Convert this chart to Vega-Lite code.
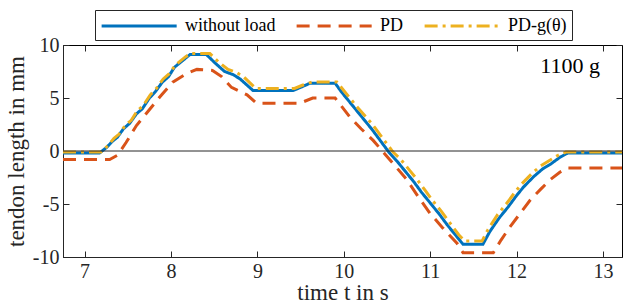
{
  "$schema": "https://vega.github.io/schema/vega-lite/v6.json",
  "width": 559,
  "height": 212,
  "autosize": {"type": "none"},
  "padding": {"left": 63, "top": 45, "right": 1, "bottom": 49},
  "background": "white",
  "config": {
    "view": {"stroke": "black", "strokeWidth": 1},
    "font": "Liberation Serif",
    "axis": {
      "domainColor": "#262626",
      "tickColor": "#262626",
      "labelColor": "#262626",
      "titleColor": "#262626",
      "grid": false,
      "labelFont": "Liberation Serif",
      "titleFont": "Liberation Serif",
      "labelFontSize": 20,
      "titleFontSize": 23,
      "titleFontWeight": "normal",
      "tickSize": -6,
      "labelPadding": 10
    },
    "legend": {
      "labelFont": "Liberation Serif",
      "labelFontSize": 18,
      "labelFontWeight": "normal",
      "labelColor": "black"
    }
  },
  "datasets": {
    "note": [{"label": "1100 g"}],
    "curves": [
      {"t": 6.75, "v": -0.2, "s": "without load"},
      {"t": 7.17, "v": -0.2, "s": "without load"},
      {"t": 7.25, "v": 0.3, "s": "without load"},
      {"t": 7.32, "v": 0.9, "s": "without load"},
      {"t": 7.38, "v": 1.3, "s": "without load"},
      {"t": 7.45, "v": 2.1, "s": "without load"},
      {"t": 7.52, "v": 2.6, "s": "without load"},
      {"t": 7.6, "v": 3.5, "s": "without load"},
      {"t": 7.67, "v": 4.0, "s": "without load"},
      {"t": 7.75, "v": 5.0, "s": "without load"},
      {"t": 7.82, "v": 5.6, "s": "without load"},
      {"t": 7.9, "v": 6.5, "s": "without load"},
      {"t": 7.97, "v": 7.0, "s": "without load"},
      {"t": 8.04, "v": 7.9, "s": "without load"},
      {"t": 8.1, "v": 8.3, "s": "without load"},
      {"t": 8.16, "v": 8.7, "s": "without load"},
      {"t": 8.22, "v": 9.1, "s": "without load"},
      {"t": 8.41, "v": 9.1, "s": "without load"},
      {"t": 8.51, "v": 8.3, "s": "without load"},
      {"t": 8.62, "v": 7.5, "s": "without load"},
      {"t": 8.72, "v": 7.2, "s": "without load"},
      {"t": 8.8, "v": 6.8, "s": "without load"},
      {"t": 8.95, "v": 5.7, "s": "without load"},
      {"t": 9.41, "v": 5.7, "s": "without load"},
      {"t": 9.5, "v": 6.0, "s": "without load"},
      {"t": 9.61, "v": 6.4, "s": "without load"},
      {"t": 9.9, "v": 6.4, "s": "without load"},
      {"t": 9.97, "v": 5.6, "s": "without load"},
      {"t": 10.07, "v": 4.6, "s": "without load"},
      {"t": 10.15, "v": 3.8, "s": "without load"},
      {"t": 10.24, "v": 2.9, "s": "without load"},
      {"t": 10.33, "v": 2.0, "s": "without load"},
      {"t": 10.43, "v": 0.9, "s": "without load"},
      {"t": 10.53, "v": -0.2, "s": "without load"},
      {"t": 10.62, "v": -1.0, "s": "without load"},
      {"t": 10.72, "v": -2.0, "s": "without load"},
      {"t": 10.81, "v": -2.9, "s": "without load"},
      {"t": 10.9, "v": -3.9, "s": "without load"},
      {"t": 11.0, "v": -4.9, "s": "without load"},
      {"t": 11.1, "v": -5.9, "s": "without load"},
      {"t": 11.2, "v": -7.0, "s": "without load"},
      {"t": 11.31, "v": -8.1, "s": "without load"},
      {"t": 11.38, "v": -8.8, "s": "without load"},
      {"t": 11.61, "v": -8.8, "s": "without load"},
      {"t": 11.69, "v": -7.6, "s": "without load"},
      {"t": 11.8, "v": -6.3, "s": "without load"},
      {"t": 11.9, "v": -5.3, "s": "without load"},
      {"t": 12.0, "v": -4.2, "s": "without load"},
      {"t": 12.08, "v": -3.4, "s": "without load"},
      {"t": 12.2, "v": -2.4, "s": "without load"},
      {"t": 12.3, "v": -1.7, "s": "without load"},
      {"t": 12.4, "v": -1.2, "s": "without load"},
      {"t": 12.5, "v": -0.6, "s": "without load"},
      {"t": 12.59, "v": -0.2, "s": "without load"},
      {"t": 13.22, "v": -0.2, "s": "without load"},

      {"t": 6.75, "v": -0.8, "s": "PD"},
      {"t": 7.29, "v": -0.8, "s": "PD"},
      {"t": 7.38, "v": -0.4, "s": "PD"},
      {"t": 7.48, "v": 0.8, "s": "PD"},
      {"t": 7.6, "v": 2.4, "s": "PD"},
      {"t": 7.74, "v": 3.8, "s": "PD"},
      {"t": 7.87, "v": 5.1, "s": "PD"},
      {"t": 8.02, "v": 6.5, "s": "PD"},
      {"t": 8.18, "v": 7.3, "s": "PD"},
      {"t": 8.3, "v": 7.7, "s": "PD"},
      {"t": 8.48, "v": 7.6, "s": "PD"},
      {"t": 8.59, "v": 7.0, "s": "PD"},
      {"t": 8.7, "v": 6.0, "s": "PD"},
      {"t": 8.88, "v": 5.3, "s": "PD"},
      {"t": 8.99, "v": 4.5, "s": "PD"},
      {"t": 9.49, "v": 4.5, "s": "PD"},
      {"t": 9.64, "v": 5.0, "s": "PD"},
      {"t": 9.9, "v": 5.0, "s": "PD"},
      {"t": 10.07, "v": 3.2, "s": "PD"},
      {"t": 10.2, "v": 2.1, "s": "PD"},
      {"t": 10.34, "v": 1.0, "s": "PD"},
      {"t": 10.53, "v": -0.8, "s": "PD"},
      {"t": 10.73, "v": -2.7, "s": "PD"},
      {"t": 10.86, "v": -4.3, "s": "PD"},
      {"t": 11.0, "v": -5.9, "s": "PD"},
      {"t": 11.15, "v": -7.3, "s": "PD"},
      {"t": 11.31, "v": -8.7, "s": "PD"},
      {"t": 11.38, "v": -9.6, "s": "PD"},
      {"t": 11.73, "v": -9.6, "s": "PD"},
      {"t": 11.82, "v": -8.4, "s": "PD"},
      {"t": 11.92, "v": -7.2, "s": "PD"},
      {"t": 12.04, "v": -5.9, "s": "PD"},
      {"t": 12.16, "v": -4.6, "s": "PD"},
      {"t": 12.28, "v": -3.6, "s": "PD"},
      {"t": 12.39, "v": -2.7, "s": "PD"},
      {"t": 12.5, "v": -2.0, "s": "PD"},
      {"t": 12.59, "v": -1.6, "s": "PD"},
      {"t": 13.22, "v": -1.6, "s": "PD"},

      {"t": 6.75, "v": -0.1, "s": "PD-g(θ)"},
      {"t": 7.19, "v": -0.1, "s": "PD-g(θ)"},
      {"t": 7.27, "v": 0.5, "s": "PD-g(θ)"},
      {"t": 7.34, "v": 1.2, "s": "PD-g(θ)"},
      {"t": 7.4, "v": 1.6, "s": "PD-g(θ)"},
      {"t": 7.47, "v": 2.4, "s": "PD-g(θ)"},
      {"t": 7.54, "v": 2.9, "s": "PD-g(θ)"},
      {"t": 7.61, "v": 3.8, "s": "PD-g(θ)"},
      {"t": 7.68, "v": 4.3, "s": "PD-g(θ)"},
      {"t": 7.76, "v": 5.3, "s": "PD-g(θ)"},
      {"t": 7.83, "v": 5.9, "s": "PD-g(θ)"},
      {"t": 7.91, "v": 6.8, "s": "PD-g(θ)"},
      {"t": 7.98, "v": 7.3, "s": "PD-g(θ)"},
      {"t": 8.05, "v": 8.1, "s": "PD-g(θ)"},
      {"t": 8.11, "v": 8.5, "s": "PD-g(θ)"},
      {"t": 8.17, "v": 8.9, "s": "PD-g(θ)"},
      {"t": 8.23, "v": 9.2, "s": "PD-g(θ)"},
      {"t": 8.45, "v": 9.2, "s": "PD-g(θ)"},
      {"t": 8.55, "v": 8.4, "s": "PD-g(θ)"},
      {"t": 8.66, "v": 7.7, "s": "PD-g(θ)"},
      {"t": 8.76, "v": 7.4, "s": "PD-g(θ)"},
      {"t": 8.84, "v": 7.0, "s": "PD-g(θ)"},
      {"t": 8.98, "v": 5.9, "s": "PD-g(θ)"},
      {"t": 9.43, "v": 5.9, "s": "PD-g(θ)"},
      {"t": 9.52, "v": 6.2, "s": "PD-g(θ)"},
      {"t": 9.63, "v": 6.5, "s": "PD-g(θ)"},
      {"t": 9.92, "v": 6.5, "s": "PD-g(θ)"},
      {"t": 9.99, "v": 5.8, "s": "PD-g(θ)"},
      {"t": 10.09, "v": 4.8, "s": "PD-g(θ)"},
      {"t": 10.17, "v": 4.0, "s": "PD-g(θ)"},
      {"t": 10.27, "v": 3.1, "s": "PD-g(θ)"},
      {"t": 10.36, "v": 2.2, "s": "PD-g(θ)"},
      {"t": 10.46, "v": 1.1, "s": "PD-g(θ)"},
      {"t": 10.57, "v": -0.1, "s": "PD-g(θ)"},
      {"t": 10.66, "v": -0.8, "s": "PD-g(θ)"},
      {"t": 10.76, "v": -1.8, "s": "PD-g(θ)"},
      {"t": 10.85, "v": -2.7, "s": "PD-g(θ)"},
      {"t": 10.94, "v": -3.7, "s": "PD-g(θ)"},
      {"t": 11.03, "v": -4.7, "s": "PD-g(θ)"},
      {"t": 11.13, "v": -5.7, "s": "PD-g(θ)"},
      {"t": 11.23, "v": -6.8, "s": "PD-g(θ)"},
      {"t": 11.33, "v": -7.9, "s": "PD-g(θ)"},
      {"t": 11.4, "v": -8.5, "s": "PD-g(θ)"},
      {"t": 11.6, "v": -8.5, "s": "PD-g(θ)"},
      {"t": 11.67, "v": -7.4, "s": "PD-g(θ)"},
      {"t": 11.78, "v": -6.0, "s": "PD-g(θ)"},
      {"t": 11.88, "v": -5.0, "s": "PD-g(θ)"},
      {"t": 11.98, "v": -3.9, "s": "PD-g(θ)"},
      {"t": 12.06, "v": -3.1, "s": "PD-g(θ)"},
      {"t": 12.18, "v": -2.1, "s": "PD-g(θ)"},
      {"t": 12.28, "v": -1.4, "s": "PD-g(θ)"},
      {"t": 12.38, "v": -0.9, "s": "PD-g(θ)"},
      {"t": 12.48, "v": -0.4, "s": "PD-g(θ)"},
      {"t": 12.57, "v": -0.1, "s": "PD-g(θ)"},
      {"t": 13.22, "v": -0.1, "s": "PD-g(θ)"}
    ]
  },
  "resolve": {"axis": {"x": "independent", "y": "independent"}},
  "layer": [
    {
      "data": {"name": "curves"},
      "mark": {"type": "line", "strokeWidth": 3, "clip": true},
      "encoding": {
        "x": {
          "field": "t",
          "type": "quantitative",
          "scale": {"domain": [6.75, 13.22], "nice": false, "zero": false},
          "axis": {"orient": "bottom", "values": [7, 8, 9, 10, 11, 12, 13], "format": "d", "title": "time t in s", "titlePadding": 0}
        },
        "y": {
          "field": "v",
          "type": "quantitative",
          "scale": {"domain": [-10, 10], "nice": false},
          "axis": {"orient": "left", "values": [-10, -5, 0, 5, 10], "title": "tendon length in mm", "labelExpr": "'' + datum.value", "titlePadding": 4}
        },
        "color": {
          "field": "s",
          "type": "nominal",
          "sort": null,
          "scale": {"domain": ["without load", "PD", "PD-g(θ)"], "range": ["#0072BD", "#D95319", "#EDB120"]},
          "legend": {
            "title": null,
            "orient": "none",
            "legendX": 32,
            "legendY": -35,
            "direction": "horizontal",
            "symbolType": "M-1,0H7",
            "symbolSize": 352,
            "symbolStrokeWidth": 3,
            "labelOffset": 63,
            "columnPadding": 14,
            "padding": 5,
            "strokeColor": "#262626",
            "fillColor": "white",
            "cornerRadius": 0
          }
        },
        "strokeDash": {
          "field": "s",
          "type": "nominal",
          "sort": null,
          "scale": {"domain": ["without load", "PD", "PD-g(θ)"], "range": [[1, 0], [13, 8], [13, 5, 3, 5]]},
          "legend": {
            "title": null,
            "orient": "none",
            "legendX": 32,
            "legendY": -35,
            "direction": "horizontal",
            "symbolType": "M-1,0H7",
            "symbolSize": 352,
            "symbolStrokeWidth": 3,
            "labelOffset": 63,
            "columnPadding": 14,
            "padding": 5,
            "strokeColor": "#262626",
            "fillColor": "white",
            "cornerRadius": 0
          }
        }
      }
    },
    {
      "data": {"name": "note"},
      "mark": {"type": "rule", "color": "#262626", "strokeWidth": 1},
      "encoding": {
        "y": {
          "datum": 0,
          "type": "quantitative",
          "axis": {"orient": "right", "values": [-10, -5, 0, 5, 10], "labels": false, "title": null, "domain": false}
        }
      }
    },
    {
      "data": {"name": "note"},
      "mark": {"type": "text", "fontSize": 22, "font": "Liberation Serif", "fill": "black", "align": "center", "baseline": "alphabetic"},
      "encoding": {
        "x": {"datum": 12.62, "type": "quantitative", "axis": {"orient": "top", "values": [7, 8, 9, 10, 11, 12, 13], "labels": false, "title": null, "domain": false}},
        "y": {"datum": 7.35, "type": "quantitative", "axis": null},
        "text": {"field": "label", "type": "nominal"}
      }
    }
  ]
}
